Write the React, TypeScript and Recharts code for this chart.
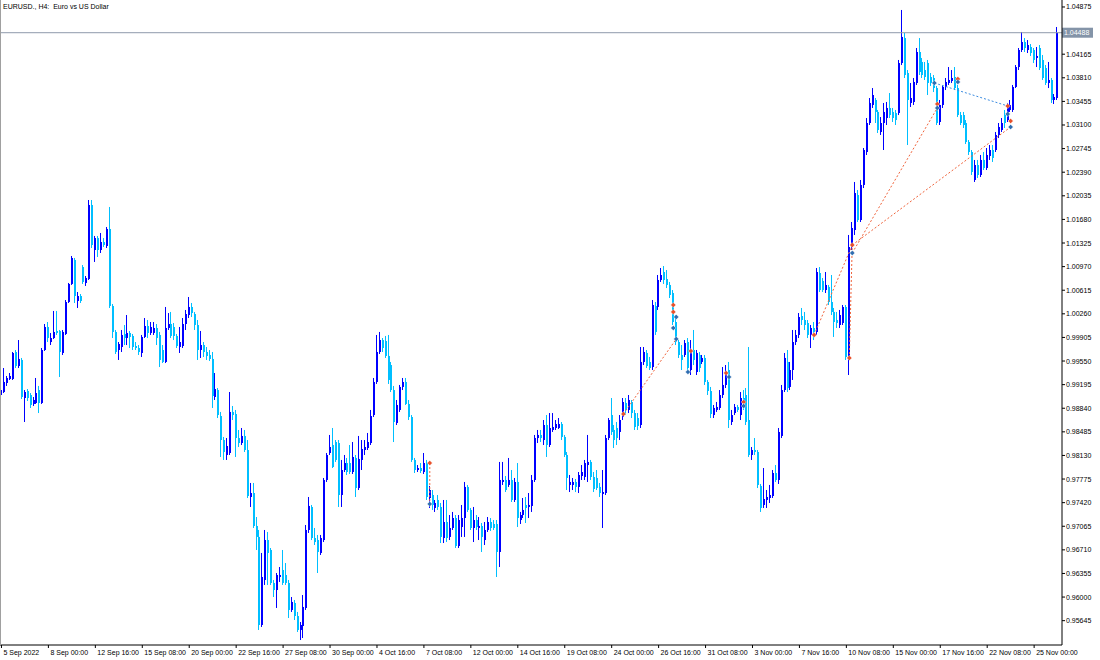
import { ComposedChart, Bar, XAxis, YAxis, ReferenceLine, ReferenceDot } from "recharts"

type Ohlc = [number, number, number, number]

// EURUSD., H4 — one array per trading week, each bar is [open, high, low, close]
const sep05: Ohlc[] = [
  [0.99039, 0.9919, 0.98994, 0.99114], [0.99084, 0.99445, 0.99069, 0.99235], [0.9922, 0.99325, 0.99175, 0.99295], [0.9928, 0.9937, 0.99265, 0.99325],
  [0.9928, 0.99686, 0.99265, 0.99671], [0.99686, 0.99716, 0.99445, 0.99475], [0.99475, 0.99866, 0.99445, 0.99581], [0.99566, 0.99596, 0.98979, 0.99009],
  [0.98994, 0.99114, 0.98633, 0.99084], [0.99099, 0.99129, 0.98949, 0.98994], [0.99039, 0.99069, 0.98844, 0.98889], [0.98904, 0.99009, 0.98874, 0.98964],
  [0.98919, 0.99295, 0.98904, 0.99069], [0.99114, 0.99175, 0.98768, 0.98919], [0.98919, 0.99746, 0.98904, 0.99716], [0.99716, 1.00107, 0.99701, 1.00062],
  [1.00062, 1.00137, 0.99836, 0.99896], [0.99836, 0.99972, 0.99791, 0.99896], [0.99896, 1.00303, 0.99881, 0.99987], [1.00002, 1.00303, 0.99942, 0.99972],
  [1.00002, 1.00017, 0.9931, 0.99686], [0.99671, 1.00017, 0.99641, 0.99987], [0.99957, 1.00468, 0.99942, 1.00438], [1.00438, 1.00724, 1.00423, 1.00709],
  [1.00709, 1.0113, 1.00694, 1.011], [1.0107, 1.011, 1.00423, 1.00528], [1.00453, 1.00588, 1.00348, 1.00528], [1.00528, 1.00558, 1.00423, 1.00453],
]
const sep12: Ohlc[] = [
  [1.00964, 1.00994, 1.00709, 1.00739], [1.00724, 1.00829, 1.00679, 1.00799], [1.00784, 1.01972, 1.00769, 1.01897], [1.01897, 1.01972, 1.0125, 1.01295],
  [1.0122, 1.01431, 1.0104, 1.014], [1.014, 1.01431, 1.01115, 1.0122], [1.0122, 1.01476, 1.01175, 1.0134], [1.0134, 1.014, 1.01265, 1.01295],
  [1.0128, 1.01566, 1.0125, 1.01536], [1.01536, 1.01867, 1.00348, 1.00378], [1.00378, 1.00408, 0.99896, 0.99987], [0.99987, 1.00017, 0.99656, 0.99686],
  [0.99716, 0.99836, 0.99566, 0.99806], [0.99761, 1.00017, 0.99686, 0.99942], [0.99957, 1.00092, 0.99791, 0.99896], [0.99896, 1.00242, 0.99791, 0.99972],
  [0.99972, 1.00002, 0.99746, 0.99912], [0.99927, 0.99957, 0.99716, 0.99761], [0.99776, 0.99836, 0.99716, 0.99746], [0.99746, 0.99791, 0.99641, 0.99686],
  [0.99671, 0.99942, 0.99611, 0.99912], [0.99912, 1.00197, 0.99896, 1.00077], [1.00077, 1.00167, 0.99896, 0.99972], [0.99972, 1.00137, 0.99942, 1.00062],
  [0.99972, 1.00137, 0.99942, 1.00047], [1.00047, 1.00107, 0.99791, 0.99896], [0.99942, 0.99987, 0.9946, 0.99566], [0.99716, 0.99791, 0.9952, 0.99536],
  [0.99536, 1.00363, 0.9952, 1.00047], [1.00047, 1.00272, 1.00017, 1.00107],
]
const sep19: Ohlc[] = [
  [1.00107, 1.00288, 0.99896, 0.99927], [1.00062, 1.00122, 0.99866, 0.99927], [0.99927, 0.99957, 0.99746, 0.99776], [0.99761, 1.00062, 0.99671, 0.99836],
  [0.99776, 1.00197, 0.99746, 1.00107], [1.00107, 1.00318, 1.00017, 1.00257], [1.00242, 1.00513, 1.00197, 1.00363], [1.00363, 1.00423, 1.00212, 1.00272],
  [1.00257, 1.00288, 1.00017, 1.00092], [1.00092, 1.00167, 0.99566, 0.99716], [0.99716, 1.00002, 0.99596, 0.99791], [0.99791, 0.99836, 0.99611, 0.99686],
  [0.99686, 0.99761, 0.99566, 0.99626], [0.99641, 0.99716, 0.99551, 0.99581], [0.99581, 0.99686, 0.98844, 0.99024], [0.99009, 0.9937, 0.98964, 0.99129],
  [0.99114, 0.99144, 0.98693, 0.98738], [0.98723, 0.98784, 0.98107, 0.98362], [0.98362, 0.98408, 0.98062, 0.98182], [0.98137, 0.98392, 0.98062, 0.98272],
  [0.98167, 0.99084, 0.98137, 0.98784], [0.98784, 0.98874, 0.98663, 0.98738], [0.98753, 0.98814, 0.98107, 0.98392], [0.98392, 0.98513, 0.98257, 0.98317],
  [0.98317, 0.98543, 0.98287, 0.98423], [0.98423, 0.98513, 0.98182, 0.98212], [0.98212, 0.98362, 0.9749, 0.9752], [0.97505, 0.97716, 0.97355, 0.97565],
  [0.97565, 0.97716, 0.97039, 0.97069], [0.97069, 0.97204, 0.96708, 0.96904],
]
const sep26: Ohlc[] = [
  [0.96904, 0.97009, 0.95505, 0.9558], [0.9558, 0.96663, 0.9555, 0.96302], [0.96257, 0.97009, 0.96182, 0.96858], [0.96858, 0.96979, 0.96182, 0.96663],
  [0.96708, 0.96738, 0.96182, 0.96212], [0.96212, 0.96257, 0.96001, 0.96106], [0.96106, 0.96362, 0.95836, 0.96332], [0.96302, 0.96452, 0.96227, 0.96332],
  [0.96407, 0.96708, 0.96182, 0.96212], [0.96332, 0.96512, 0.96182, 0.96212], [0.96212, 0.96257, 0.95685, 0.95806], [0.95806, 0.96001, 0.95776, 0.95926],
  [0.95911, 0.95956, 0.95655, 0.95715], [0.95715, 0.95776, 0.95475, 0.95505], [0.95505, 0.95625, 0.95354, 0.9558], [0.95565, 0.96031, 0.95384, 0.95851],
  [0.95836, 0.97084, 0.95806, 0.97009], [0.97009, 0.97505, 0.96964, 0.9737], [0.97355, 0.97385, 0.96858, 0.96888], [0.96888, 0.97039, 0.96783, 0.96828],
  [0.96858, 0.96934, 0.96362, 0.96678], [0.96663, 0.96934, 0.96633, 0.96888], [0.96858, 0.97791, 0.96828, 0.97761], [0.97761, 0.98167, 0.97731, 0.98137],
  [0.98167, 0.98438, 0.98137, 0.98257], [0.98287, 0.98543, 0.97941, 0.97956], [0.98332, 0.98362, 0.98032, 0.98062], [0.98317, 0.98362, 0.97355, 0.97535],
  [0.97535, 0.98062, 0.97355, 0.97911], [0.97911, 0.98137, 0.97881, 0.98016],
]
const oct03: Ohlc[] = [
  [0.98016, 0.98092, 0.97836, 0.97881], [0.98016, 0.98287, 0.97851, 0.97881], [0.97881, 0.98332, 0.97851, 0.98107], [0.98092, 0.98137, 0.97505, 0.9764],
  [0.9764, 0.98423, 0.9761, 0.98077], [0.98062, 0.98362, 0.97911, 0.98227], [0.98212, 0.98362, 0.98137, 0.98257], [0.98242, 0.98468, 0.98212, 0.98332],
  [0.98317, 0.98814, 0.98287, 0.98723], [0.98738, 0.99295, 0.98708, 0.99235], [0.99235, 0.99942, 0.99205, 0.99686], [0.99686, 0.99987, 0.99656, 0.99866],
  [0.99866, 0.99896, 0.99686, 0.99746], [0.99851, 0.99927, 0.99596, 0.99626], [0.99626, 0.99942, 0.99205, 0.99265], [0.9949, 0.99536, 0.99084, 0.99114],
  [0.99114, 0.99175, 0.98332, 0.98633], [0.98618, 0.98964, 0.98588, 0.98889], [0.98814, 0.9919, 0.98784, 0.9916], [0.9916, 0.99295, 0.99114, 0.99235],
  [0.99235, 0.99295, 0.98889, 0.98904], [0.98904, 0.98964, 0.98663, 0.98708], [0.98708, 0.98738, 0.98032, 0.98062], [0.98062, 0.98092, 0.97866, 0.97911],
  [0.97911, 0.97986, 0.97881, 0.97941], [0.97941, 0.98016, 0.97866, 0.97896], [0.97881, 0.98167, 0.97851, 0.98016], [0.98016, 0.98062, 0.9746, 0.97505],
  [0.9749, 0.97671, 0.9734, 0.9761], [0.97535, 0.9761, 0.9731, 0.97385],
]
const oct10: Ohlc[] = [
  [0.9734, 0.9746, 0.9728, 0.97415], [0.9746, 0.97535, 0.9731, 0.97355], [0.97355, 0.97415, 0.96813, 0.96904], [0.96888, 0.9746, 0.96813, 0.97129],
  [0.97129, 0.9746, 0.96828, 0.96888], [0.96904, 0.97234, 0.96858, 0.97039], [0.97039, 0.9728, 0.97009, 0.97189], [0.97189, 0.97234, 0.96738, 0.96768],
  [0.96768, 0.97234, 0.96738, 0.97159], [0.97054, 0.97385, 0.96904, 0.97189], [0.97189, 0.97731, 0.96904, 0.97656], [0.97656, 0.97686, 0.9728, 0.9731],
  [0.9731, 0.9734, 0.97009, 0.97039], [0.97039, 0.97355, 0.96828, 0.97159], [0.97159, 0.97234, 0.97009, 0.97054], [0.97039, 0.97204, 0.96858, 0.97069],
  [0.97069, 0.97114, 0.96678, 0.96904], [0.96858, 0.97129, 0.96783, 0.97009], [0.97009, 0.97204, 0.96979, 0.97129], [0.97129, 0.97189, 0.96994, 0.97039],
  [0.97099, 0.97159, 0.97009, 0.97039], [0.97099, 0.97159, 0.96302, 0.96678], [0.96678, 0.98032, 0.96452, 0.97761], [0.97731, 0.98032, 0.97686, 0.97761],
  [0.97761, 0.97821, 0.9758, 0.9761], [0.97686, 0.98092, 0.97656, 0.97761], [0.97761, 0.97911, 0.9743, 0.9746], [0.9746, 0.97791, 0.9743, 0.97731],
  [0.97731, 0.98016, 0.97054, 0.97189], [0.97159, 0.9728, 0.97099, 0.97234],
]
const oct17: Ohlc[] = [
  [0.97234, 0.9749, 0.97189, 0.9731], [0.97385, 0.97505, 0.97114, 0.9734], [0.97355, 0.97565, 0.97189, 0.97385], [0.9737, 0.97836, 0.9728, 0.97761],
  [0.97761, 0.98438, 0.97731, 0.98392], [0.98392, 0.98513, 0.98317, 0.98438], [0.98438, 0.98513, 0.98332, 0.98392], [0.98362, 0.98663, 0.98287, 0.98588],
  [0.98588, 0.98738, 0.98107, 0.98287], [0.98287, 0.98768, 0.98257, 0.98543], [0.98513, 0.98768, 0.98483, 0.98558], [0.98543, 0.98663, 0.98513, 0.98603],
  [0.98543, 0.98693, 0.98528, 0.98603], [0.98603, 0.98633, 0.98362, 0.98408], [0.98408, 0.98438, 0.98107, 0.98137], [0.98137, 0.98182, 0.9761, 0.97791],
  [0.97686, 0.97836, 0.9758, 0.97731], [0.97686, 0.97791, 0.9761, 0.97731], [0.97731, 0.97776, 0.9758, 0.97656], [0.97656, 0.97881, 0.97565, 0.97836],
  [0.97821, 0.97986, 0.97761, 0.97881], [0.97806, 0.98062, 0.97761, 0.98016], [0.97986, 0.98438, 0.97731, 0.98032], [0.98032, 0.98062, 0.97761, 0.97806],
  [0.97806, 0.97881, 0.9758, 0.97625], [0.97791, 0.97911, 0.9761, 0.9764], [0.97656, 0.97716, 0.97505, 0.97565], [0.9755, 0.97911, 0.97039, 0.9758],
  [0.97565, 0.98438, 0.97535, 0.98392], [0.98392, 0.98693, 0.98362, 0.98663],
]
const oct24: Ohlc[] = [
  [0.98738, 0.98994, 0.98438, 0.98483], [0.98513, 0.98588, 0.98242, 0.98362], [0.98543, 0.98633, 0.98287, 0.98392], [0.98483, 0.98738, 0.98362, 0.98663],
  [0.98708, 0.98994, 0.98663, 0.98934], [0.98919, 0.98994, 0.98738, 0.98814], [0.98814, 0.99039, 0.98768, 0.98964], [0.98934, 0.98964, 0.98693, 0.98768],
  [0.98768, 0.98814, 0.98513, 0.98558], [0.98693, 0.98768, 0.98513, 0.98573], [0.98588, 0.99761, 0.98543, 0.99536], [0.99536, 0.99761, 0.9949, 0.99686],
  [0.99671, 0.99716, 0.99445, 0.99475], [0.99536, 0.99611, 0.99415, 0.99445], [0.9946, 1.00468, 0.99415, 1.00393], [1.00378, 1.00438, 0.99942, 0.99987],
  [1.00363, 1.00844, 1.00318, 1.00769], [1.00769, 1.00949, 1.00739, 1.00844], [1.00889, 1.00979, 1.00709, 1.00769], [1.00784, 1.00919, 1.00648, 1.00694],
  [1.00694, 1.00739, 1.00498, 1.00543], [1.00573, 1.00618, 1.00092, 1.00137], [1.00137, 1.00242, 0.99791, 0.99836], [0.99836, 0.99866, 0.99596, 0.99641],
  [0.99641, 0.99791, 0.99415, 0.99566], [0.99641, 0.99866, 0.99611, 0.99821], [0.99836, 0.99896, 0.99385, 0.99445], [0.99415, 0.99866, 0.9934, 0.99686],
  [0.99716, 1.00017, 0.9949, 0.99566], [0.99385, 0.99716, 0.9934, 0.99671],
]
const oct31: Ohlc[] = [
  [0.99641, 0.99686, 0.99385, 0.99445], [0.99536, 0.99641, 0.99505, 0.99596], [0.99596, 0.99641, 0.9919, 0.99235], [0.99235, 0.99265, 0.99039, 0.99099],
  [0.99099, 0.9916, 0.98693, 0.98753], [0.98738, 0.98889, 0.98693, 0.98844], [0.98814, 0.98934, 0.98784, 0.98859], [0.98844, 0.99114, 0.98814, 0.99039],
  [0.99039, 0.9946, 0.98994, 0.9919], [0.9919, 0.9949, 0.99144, 0.99385], [0.99415, 0.99536, 0.98543, 0.98663], [0.98633, 0.98814, 0.98588, 0.98738],
  [0.98768, 0.98904, 0.98738, 0.98859], [0.98859, 0.98889, 0.98784, 0.98814], [0.98738, 0.99084, 0.98663, 0.98994], [0.98994, 0.99114, 0.98814, 0.98934],
  [0.99039, 0.99144, 0.98588, 0.98633], [0.98663, 0.99761, 0.98107, 0.98137], [0.98137, 0.98257, 0.98062, 0.98212], [0.98212, 0.98392, 0.98137, 0.98182],
  [0.98182, 0.98212, 0.9764, 0.97686], [0.97671, 0.97701, 0.9728, 0.9734], [0.97385, 0.97941, 0.9734, 0.97475], [0.9746, 0.9761, 0.9734, 0.97505],
  [0.9749, 0.97686, 0.97415, 0.97535], [0.9752, 0.97911, 0.9749, 0.97866], [0.97866, 0.97986, 0.97731, 0.97761], [0.97761, 0.98543, 0.97701, 0.98483],
  [0.98423, 0.9919, 0.98392, 0.99114], [0.99114, 0.99671, 0.99084, 0.99596],
]
const nov07: Ohlc[] = [
  [0.99536, 0.99716, 0.99084, 0.99144], [0.9916, 0.99536, 0.99114, 0.99415], [0.99415, 1.00017, 0.99265, 0.99836], [0.99836, 1.00017, 0.99791, 0.99942],
  [0.99942, 1.00272, 0.99896, 1.00212], [1.00227, 1.00348, 1.00092, 1.00167], [1.00167, 1.00288, 1.00017, 1.00092], [1.00122, 1.00167, 0.99896, 0.99942],
  [0.99942, 1.00092, 0.99746, 1.00047], [1.00047, 1.00137, 0.99866, 0.99987], [0.99987, 1.00949, 0.99942, 1.00889], [1.00874, 1.00964, 1.00588, 1.00618],
  [1.00754, 1.00799, 1.00588, 1.00618], [1.00618, 1.00889, 1.00573, 1.00694], [1.00664, 1.00694, 1.00393, 1.00438], [1.00438, 1.00844, 1.00242, 1.00288],
  [1.00288, 1.00348, 0.99912, 1.00137], [1.00167, 1.00288, 1.00047, 1.00122], [1.00092, 1.00318, 1.00047, 1.00242], [1.00122, 1.00393, 1.00092, 1.00363],
  [1.00363, 1.00393, 0.99566, 0.99611], [0.99596, 1.01446, 0.9934, 1.01265], [1.01265, 1.01641, 1.0122, 1.01551], [1.01521, 1.02243, 1.01446, 1.02077],
  [1.02047, 1.02122, 1.01641, 1.01671], [1.01671, 1.02273, 1.01641, 1.02198], [1.02198, 1.02754, 1.02152, 1.02724], [1.02694, 1.03205, 1.02649, 1.0313],
  [1.0313, 1.03506, 1.031, 1.03431], [1.03401, 1.03656, 1.03356, 1.03551],
]
const nov14: Ohlc[] = [
  [1.03476, 1.03506, 1.0313, 1.03296], [1.03296, 1.03326, 1.0298, 1.03025], [1.02995, 1.0322, 1.0295, 1.0313], [1.0313, 1.03431, 1.02724, 1.03296],
  [1.03205, 1.03446, 1.031, 1.03356], [1.03356, 1.03581, 1.03205, 1.0325], [1.03296, 1.03356, 1.03145, 1.03205], [1.0328, 1.03326, 1.031, 1.03175],
  [1.0328, 1.04078, 1.0325, 1.04032], [1.04032, 1.0483, 1.04002, 1.04424], [1.04408, 1.04484, 1.03807, 1.03852], [1.03882, 1.03927, 1.02799, 1.03476],
  [1.03431, 1.03732, 1.03371, 1.03506], [1.03446, 1.03807, 1.03401, 1.03747], [1.03732, 1.04258, 1.03702, 1.04198], [1.04198, 1.04408, 1.03852, 1.03897],
  [1.04048, 1.04108, 1.03807, 1.03852], [1.03927, 1.04048, 1.03777, 1.03822], [1.04032, 1.04078, 1.03551, 1.03732], [1.03822, 1.03882, 1.03687, 1.03732],
  [1.03807, 1.03852, 1.03596, 1.03656], [1.03656, 1.03687, 1.031, 1.0313], [1.03145, 1.03476, 1.031, 1.03401], [1.03401, 1.03702, 1.03356, 1.03672],
  [1.03672, 1.03807, 1.03626, 1.03747], [1.03732, 1.03972, 1.03702, 1.03777], [1.03762, 1.03927, 1.03732, 1.03807], [1.03822, 1.03972, 1.03626, 1.03656],
  [1.03656, 1.03702, 1.0322, 1.0325], [1.0325, 1.03296, 1.031, 1.0313],
]
const nov21: Ohlc[] = [
  [1.0325, 1.03296, 1.03055, 1.031], [1.0313, 1.03175, 1.02814, 1.02844], [1.02844, 1.02874, 1.02649, 1.02694], [1.02694, 1.02724, 1.02348, 1.02393],
  [1.02273, 1.02574, 1.02243, 1.02498], [1.02498, 1.02574, 1.02303, 1.02348], [1.02348, 1.02649, 1.02318, 1.02574], [1.02574, 1.02694, 1.02423, 1.02453],
  [1.02453, 1.02754, 1.02423, 1.02649], [1.02634, 1.02799, 1.02574, 1.02724], [1.02724, 1.02799, 1.02544, 1.02604], [1.02724, 1.02995, 1.02694, 1.0295],
  [1.0295, 1.0313, 1.02904, 1.0307], [1.03025, 1.03205, 1.02995, 1.0313], [1.0325, 1.03326, 1.03055, 1.0313], [1.03175, 1.03431, 1.03145, 1.03371],
  [1.03326, 1.03476, 1.03296, 1.03401], [1.03326, 1.03702, 1.03296, 1.03672], [1.03672, 1.04002, 1.03656, 1.03972], [1.03972, 1.04258, 1.03927, 1.04228],
  [1.04228, 1.04499, 1.04198, 1.04348], [1.04348, 1.04408, 1.04198, 1.04258], [1.04228, 1.04378, 1.04183, 1.04303], [1.04273, 1.04318, 1.04138, 1.04183],
  [1.04228, 1.04258, 1.04032, 1.04078], [1.04108, 1.04273, 1.03972, 1.04138], [1.04258, 1.04303, 1.03927, 1.03957], [1.04078, 1.04153, 1.03777, 1.03807],
  [1.03957, 1.04002, 1.03702, 1.03732], [1.03732, 1.04048, 1.03656, 1.03777],
]
const nov28: Ohlc[] = [
  [1.03777, 1.03807, 1.03431, 1.03476], [1.03476, 1.03566, 1.03416, 1.03521], [1.03506, 1.04574, 1.03476, 1.04488],
]

// time scale labels, one every 16 bars starting at the first bar
const timeLabels = [
  "5 Sep 2022", "8 Sep 00:00", "12 Sep 16:00", "15 Sep 08:00", "20 Sep 00:00", "22 Sep 16:00", "27 Sep 08:00", "30 Sep 00:00",
  "4 Oct 16:00", "7 Oct 08:00", "12 Oct 00:00", "14 Oct 16:00", "19 Oct 08:00", "24 Oct 00:00", "26 Oct 16:00", "31 Oct 08:00",
  "3 Nov 00:00", "7 Nov 16:00", "10 Nov 08:00", "15 Nov 00:00", "17 Nov 16:00", "22 Nov 08:00", "25 Nov 00:00",
]
const barsPerLabel = 16

const priceTicks = [
  1.04875, 1.04165, 1.0381, 1.03455, 1.031, 1.02745, 1.0239, 1.02035, 1.0168, 1.01325, 1.0097, 1.00615, 1.0026,
  0.99905, 0.9955, 0.99195, 0.9884, 0.98485, 0.9813, 0.97775, 0.9742, 0.97065, 0.9671, 0.96355, 0.96, 0.95645,
]
const bidPrice = 1.04488

// trade history arrows: [bar, price]
const sellMarks = [
  [146, 0.98016], [212, 0.98753], [229, 1.00393], [229, 1.00288], [235, 0.99701], [247, 0.9937], [253, 0.98934],
  [277, 0.99942], [289, 0.99596], [290, 1.01295], [319, 1.03416], [326, 1.03792], [343, 1.03386], [344, 1.0316],
]
const buyMarks = [
  [146, 0.974], [230, 0.99881], [230, 1.00212], [229, 1.00047], [234, 0.99385], [248, 0.9931], [253, 0.98874],
  [290, 1.01175], [319, 1.03356], [318, 1.03732], [326, 1.03747], [343, 1.03265], [344, 1.0307],
]
// trade lines: [bar from, price from, bar to, price to]
const redTrades = [
  [146, 0.98016, 146, 0.974], [212, 0.98753, 230, 0.99881], [277, 0.99942, 290, 1.01295],
  [289, 0.99596, 290, 1.01295], [290, 1.01175, 319, 1.03356], [290, 1.01295, 344, 1.0307],
]
const blueTrades = [[318, 1.03732, 343, 1.03386]]

const FONT = "'Liberation Sans', Arial, sans-serif"
const UP = "#0000ff"
const DOWN = "#00bfff"

const candles = [sep05, sep12, sep19, sep26, oct03, oct10, oct17, oct24, oct31, nov07, nov14, nov21, nov28]
  .flat()
  .map(([open, high, low, close], i) => ({ i, open, high, low, close, range: [low, high] }))
// one empty slot on the right, like the chart shift
const data: any[] = [...candles, { i: candles.length }]

function Candle(props: any) {
  const { x, y, width, height, payload } = props
  if (!payload || payload.open == null || !isFinite(y) || !isFinite(height)) return <g />
  const top = Math.min(y, y + height)
  const bottom = Math.max(y, y + height)
  const span = payload.high - payload.low
  const k = span > 0 ? (bottom - top) / span : 0
  const yO = top + (payload.high - payload.open) * k
  const yC = top + (payload.high - payload.close) * k
  const color = payload.close >= payload.open ? UP : DOWN
  const cx = Math.round(x + width / 2)
  return (
    <g>
      <rect x={cx - 1} y={top} width={1} height={Math.max(1, bottom - top)} fill={color} />
      <rect x={cx - 1} y={Math.min(yO, yC)} width={2} height={Math.max(1, Math.abs(yC - yO))} fill={color} />
    </g>
  )
}

function PriceTick(props: any) {
  const { x, y, payload } = props
  return (
    <text x={x} y={y} fontSize={7} fontFamily={FONT} fill="#000" textAnchor="start" dominantBaseline="central">
      {Number(payload.value).toFixed(5)}
    </text>
  )
}

function TimeTick(props: any) {
  const { x, y, payload } = props
  return (
    <text x={x + 2} y={y + 3} fontSize={7} fontFamily={FONT} fill="#000" textAnchor="start" dominantBaseline="central">
      {timeLabels[Math.round(payload.value / barsPerLabel)]}
    </text>
  )
}

function BidLabel(props: any) {
  const vb = props.viewBox || {}
  const x = (vb.x || 0) + (vb.width || 0)
  const y = vb.y || 0
  return (
    <g>
      <rect x={x} y={y - 5} width={31} height={10} fill="#8494a8" />
      <text x={x + 2} y={y} fontSize={7} fontFamily={FONT} fill="#fff" dominantBaseline="central">
        {bidPrice.toFixed(5)}
      </text>
    </g>
  )
}

const mark = (color: string) => (p: any) => {
  const { cx, cy } = p
  if (!isFinite(cx) || !isFinite(cy)) return <g />
  return (
    <polygon
      points={`${cx},${cy - 2.6} ${cx + 2.6},${cy} ${cx},${cy + 2.6} ${cx - 2.6},${cy}`}
      fill={color}
      stroke="#ffffff"
      strokeWidth={0.4}
    />
  )
}

export default function App() {
  const tickBars = timeLabels.map((_, k) => k * barsPerLabel)
  return (
    <div style={{ position: "absolute", left: 0, top: 0, width: 1100, height: 660, background: "#fff" }}>
      <ComposedChart width={1100} height={660} data={data} margin={{ top: 0, right: 0, bottom: 0, left: 0 }}>
        <XAxis
          dataKey="i"
          type="category"
          ticks={tickBars}
          interval={0}
          height={15}
          tickSize={3}
          tickMargin={1}
          axisLine={{ stroke: "#000" }}
          tickLine={{ stroke: "#000" }}
          tick={<TimeTick />}
        />
        <YAxis
          orientation="right"
          type="number"
          domain={[0.95279, 1.0498]}
          allowDataOverflow
          ticks={priceTicks}
          interval={0}
          width={38}
          tickSize={3}
          tickMargin={1}
          axisLine={{ stroke: "#000" }}
          tickLine={{ stroke: "#000" }}
          tick={<PriceTick />}
        />
        <ReferenceLine y={bidPrice} stroke="#8e9aab" strokeWidth={1} label={<BidLabel />} />
        <Bar dataKey="range" shape={<Candle />} isAnimationActive={false} />
        {redTrades.map(([x1, y1, x2, y2], k) => (
          <ReferenceLine
            key={"rt" + k}
            segment={[{ x: x1, y: y1 }, { x: x2, y: y2 }]}
            stroke="#f0643c"
            strokeDasharray="2 2"
          />
        ))}
        {blueTrades.map(([x1, y1, x2, y2], k) => (
          <ReferenceLine
            key={"bt" + k}
            segment={[{ x: x1, y: y1 }, { x: x2, y: y2 }]}
            stroke="#3c8ce0"
            strokeDasharray="2 2"
          />
        ))}
        {sellMarks.map(([b, p], k) => (
          <ReferenceDot key={"s" + k} x={b} y={p} r={2.6} shape={mark("#e8502a")} />
        ))}
        {buyMarks.map(([b, p], k) => (
          <ReferenceDot key={"b" + k} x={b} y={p} r={2.6} shape={mark("#2f6db0")} />
        ))}
      </ComposedChart>
      <div style={{ position: "absolute", left: 0, top: 0, width: 1, height: 645, background: "#a0a0a0" }} />
      <div
        style={{
          position: "absolute",
          left: 3,
          top: 2,
          fontSize: 7,
          lineHeight: "10px",
          fontFamily: FONT,
          color: "#000",
          whiteSpace: "pre",
        }}
      >
        {"EURUSD., H4:  Euro vs US Dollar"}
      </div>
    </div>
  )
}
